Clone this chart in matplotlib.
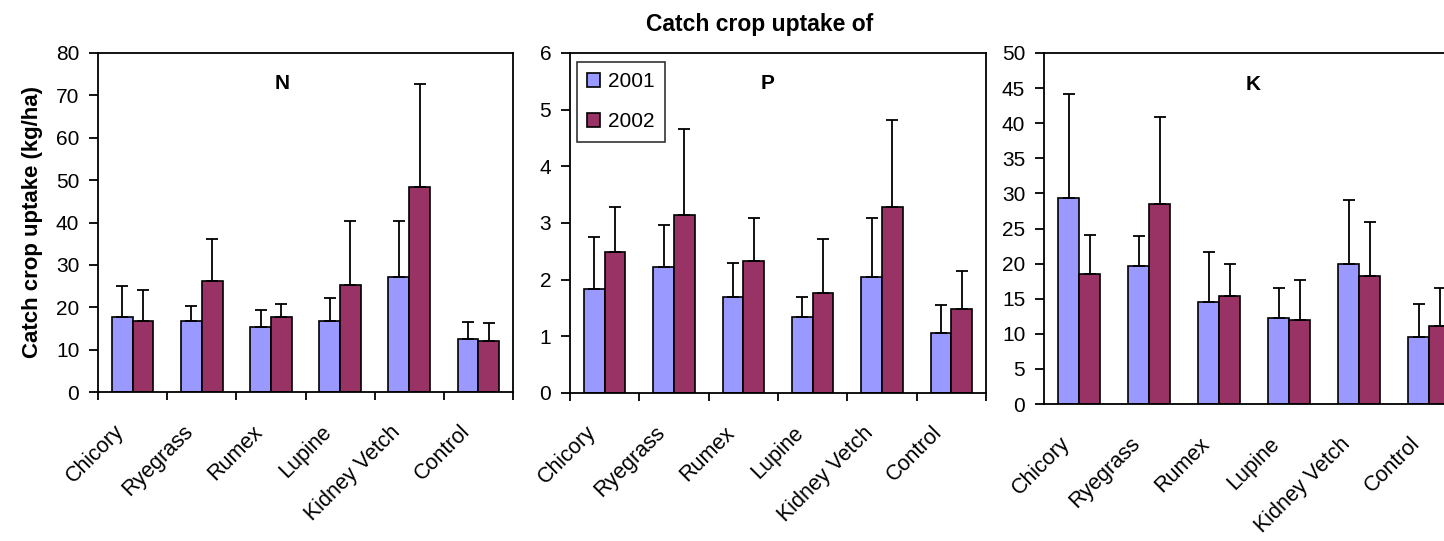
import numpy as np
import matplotlib.pyplot as plt

plt.rcParams['font.family'] = ['Liberation Sans', 'DejaVu Sans']

# data (mean and upper error)
crops = ['Chicory', 'Ryegrass', 'Rumex', 'Lupine', 'Kidney Vetch', 'Control']
years = ['2001', '2002']

n_2001 = [17.6, 16.7, 15.3, 16.7, 27.1, 12.4]
n_2001_sd = [7.5, 3.7, 4.1, 5.6, 13.2, 4.2]
n_2002 = [16.7, 26.1, 17.7, 25.2, 48.3, 12.0]
n_2002_sd = [7.4, 10.0, 3.1, 15.1, 24.4, 4.2]

p_2001 = [1.84, 2.22, 1.70, 1.34, 2.05, 1.06]
p_2001_sd = [0.91, 0.75, 0.60, 0.36, 1.03, 0.49]
p_2002 = [2.48, 3.15, 2.33, 1.77, 3.28, 1.48]
p_2002_sd = [0.80, 1.51, 0.75, 0.95, 1.53, 0.67]

k_2001 = [29.3, 19.6, 14.5, 12.3, 19.9, 9.6]
k_2001_sd = [14.9, 4.3, 7.1, 4.2, 9.1, 4.6]
k_2002 = [18.5, 28.5, 15.4, 12.0, 18.2, 11.1]
k_2002_sd = [5.6, 12.4, 4.5, 5.6, 7.7, 5.4]

col_2001 = '#9999FF'
col_2002 = '#993366'

W, H = 1444, 541
fig = plt.figure(figsize=(W / 100, H / 100), dpi=100)

def px_axes(left, right, top, bottom):
    return fig.add_axes([left / W, 1 - bottom / H, (right - left) / W, (bottom - top) / H])

panels = [
    (px_axes(98, 513, 53, 392), 'N', 0.443, n_2001, n_2001_sd, n_2002, n_2002_sd, 80, 10, True),
    (px_axes(570, 986, 53, 393), 'P', 0.474, p_2001, p_2001_sd, p_2002, p_2002_sd, 6, 1, True),
    (px_axes(1044, 1464, 53, 404), 'K', 0.498, k_2001, k_2001_sd, k_2002, k_2002_sd, 50, 5, False),
]

x = np.arange(len(crops)) + 0.5
bw = 0.3

for ax, name, tx, v1, s1, v2, s2, ymax, step, xticks in panels:
    ax.bar(x - bw / 2, v1, bw, color=col_2001, edgecolor='black', linewidth=1.2, label=years[0], zorder=2)
    ax.bar(x + bw / 2, v2, bw, color=col_2002, edgecolor='black', linewidth=1.2, label=years[1], zorder=2)
    ax.errorbar(x - bw / 2, v1, yerr=[np.zeros(len(v1)), s1], fmt='none', ecolor='black',
                elinewidth=1.3, capsize=4, capthick=1.3, zorder=3)
    ax.errorbar(x + bw / 2, v2, yerr=[np.zeros(len(v2)), s2], fmt='none', ecolor='black',
                elinewidth=1.3, capsize=4, capthick=1.3, zorder=3)
    ax.set_xlim(0, len(crops))
    ax.set_ylim(0, ymax)
    ax.set_yticks(np.arange(0, ymax + step / 2, step))
    # labels sit a bit left of the group centre, like the Excel original
    ax.set_xticks(x - 0.28)
    ax.set_xticklabels(crops, rotation=45, ha='right', rotation_mode='anchor', fontsize=15.5)
    ax.tick_params(axis='x', length=0, pad=21)
    if xticks:
        ax.set_xticks(np.arange(0, len(crops) + 1), minor=True)
        ax.tick_params(axis='x', which='minor', length=6, width=1.3, direction='out')
    ax.tick_params(axis='y', length=6.5, width=1.3, direction='out', labelsize=15, pad=7)
    for sp in ax.spines.values():
        sp.set_linewidth(1.3)
    ax.text(tx, 0.909, name, transform=ax.transAxes, ha='center', va='center',
            fontsize=15, fontweight='bold')

panels[0][0].set_ylabel('Catch crop uptake (kg/ha)', fontsize=16, fontweight='bold', labelpad=9)

leg = panels[1][0].legend(loc='upper left', fontsize=15, frameon=True, fancybox=False,
                          edgecolor='black', handlelength=0.6, handleheight=0.6,
                          handletextpad=0.4, borderpad=0.5, labelspacing=1.0,
                          borderaxespad=0, bbox_to_anchor=(0.017, 0.9735))
leg.get_frame().set_linewidth(1.2)

fig.text(760 / W, 1 - 25 / H, 'Catch crop uptake of', ha='center', va='center',
         fontsize=16.5, fontweight='bold')

fig.savefig('out.png', dpi=100)
